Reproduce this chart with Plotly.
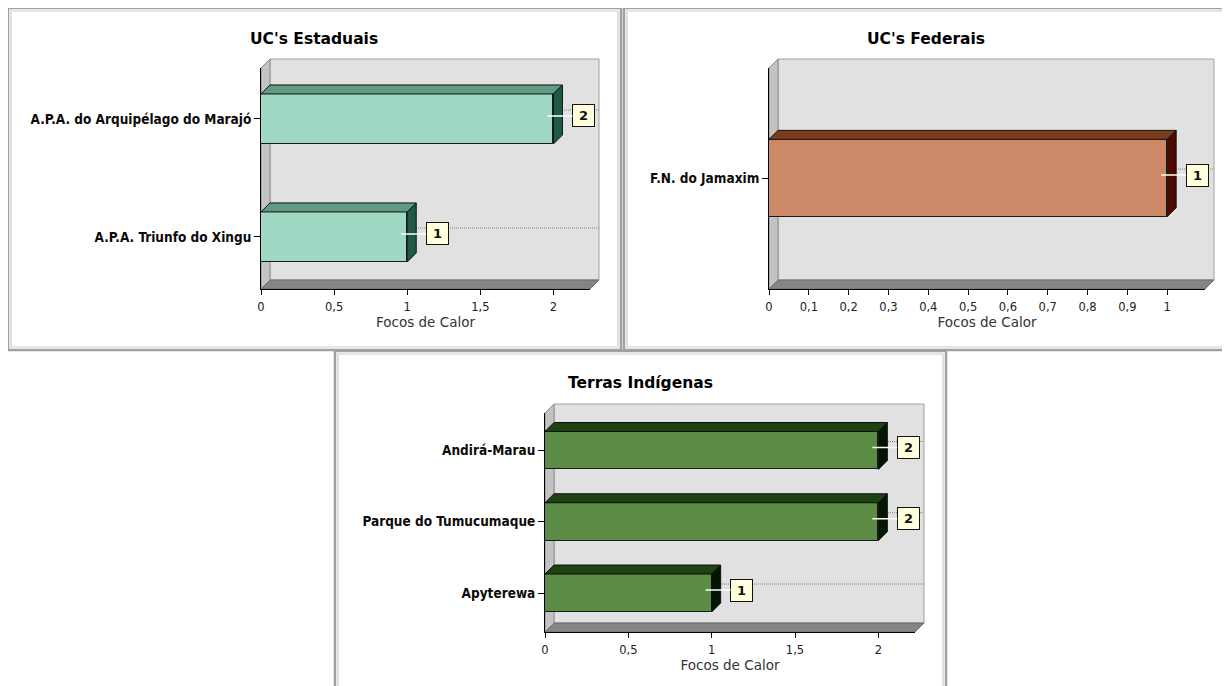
import plotly.graph_objects as go

# ---------------- data ----------------
est_categories = ["A.P.A. do Arquipélago do Marajó", "A.P.A. Triunfo do Xingu"]
est_values = [2, 1]
fed_categories = ["F.N. do Jamaxim"]
fed_values = [1]
ti_categories = ["Andirá-Marau", "Parque do Tumucumaque", "Apyterewa"]
ti_values = [2, 2, 1]

titles = ["UC's Estaduais", "UC's Federais", "Terras Indígenas"]
x_title = "Focos de Calor"

# ---------------- layout geometry (page pixels) ----------------
PAGE_W, PAGE_H = 1230, 686
OFF = 8  # default body margin of the html page
W, H = PAGE_W - OFF, PAGE_H - OFF
D = 9  # 3D depth in pixels

panels = [
    dict(cats=est_categories, vals=est_values, title=titles[0],
         box=(8, 8, 621, 350), title_y=39,
         front=(261, 68, 590, 289), xr=[0, 2.25], dtick=0.5,
         yr=[-0.441, 1.432], bw=0.424,
         colors=("#a0d9c3", "#5f9b83", "#1f5a45")),
    dict(cats=fed_categories, vals=fed_values, title=titles[1],
         box=(624, 8, 1236, 350), title_y=39,
         front=(769, 68, 1205, 289), xr=[0, 1.095], dtick=0.1,
         yr=[-0.502, 0.498], bw=0.35,
         colors=("#cd8967", "#7b3b1d", "#4b0900")),
    dict(cats=ti_categories, vals=ti_values, title=titles[2],
         box=(335, 351, 946, 694), title_y=383,
         front=(545, 413, 915, 632), xr=[0, 2.22], dtick=0.5,
         yr=[-0.547, 2.526], bw=0.533,
         colors=("#5b8b45", "#1e4311", "#031503")),
]
title_centers = [314, 926, 640]


def px(x):
    return (x - OFF) / W


def py(y):
    return 1 - (y - OFF) / H


fig = go.Figure()
shapes = []
annotations = []
layout_axes = {}

tick_font = dict(family="DejaVu Sans", size=11.5, color="#222222")
cat_font = dict(family="DejaVu Sans Condensed, DejaVu Sans, sans-serif",
                size=13.5, color="#0a0a0a", weight="bold")

for i, p in enumerate(panels, start=1):
    xa = "x" if i == 1 else f"x{i}"
    ya = "y" if i == 1 else f"y{i}"
    x0, y0, x1, y1 = p["front"]
    n = len(p["cats"])
    pos = [n - 1 - k for k in range(n)]  # top to bottom

    # panel frame (double border)
    bx0, by0, bx1, by1 = p["box"]
    shapes.append(dict(type="rect", xref="paper", yref="paper",
                       x0=px(bx0), x1=px(bx1), y0=py(by0), y1=py(by1),
                       line=dict(color="#a0a0a0", width=2.5), fillcolor="white", layer="below"))
    shapes.append(dict(type="rect", xref="paper", yref="paper",
                       x0=px(bx0 + 3), x1=px(bx1 - 3), y0=py(by0 + 3), y1=py(by1 - 3),
                       line=dict(color="#cccccc", width=1.2), layer="below"))

    # back wall
    shapes.append(dict(type="rect", xref="paper", yref="paper",
                       x0=px(x0 + D), x1=px(x1 + D), y0=py(y1 - D), y1=py(y0 - D),
                       line=dict(color="#a0a0a0", width=1), fillcolor="#e1e1e1", layer="below"))
    # left wall
    shapes.append(dict(type="path", xref="paper", yref="paper",
                       path=f"M {px(x0)},{py(y0)} L {px(x0 + D)},{py(y0 - D)} L {px(x0 + D)},{py(y1 - D)} L {px(x0)},{py(y1)} Z",
                       line=dict(color="#8c8c8c", width=1), fillcolor="#c3c3c3", layer="below"))
    # floor
    shapes.append(dict(type="path", xref="paper", yref="paper",
                       path=f"M {px(x0)},{py(y1)} L {px(x0 + D)},{py(y1 - D)} L {px(x1 + D)},{py(y1 - D)} L {px(x1)},{py(y1)} Z",
                       line=dict(color="#6e6e6e", width=1), fillcolor="#858585", layer="below"))

    # pixel -> data conversions
    ppx = (x1 - x0) / (p["xr"][1] - p["xr"][0])
    ppy = (y1 - y0) / (p["yr"][1] - p["yr"][0])
    dx = D / ppx
    dy = D / ppy

    # dotted category lines on back wall
    for yy in pos:
        shapes.append(dict(type="line", xref="paper", yref=ya,
                           x0=px(x0 + D), x1=px(x1 + D), y0=yy + dy, y1=yy + dy,
                           line=dict(color="#808080", width=1, dash="1px,1px"), layer="below"))

    front_c, top_c, side_c = p["colors"]
    fig.add_trace(go.Bar(x=p["vals"], y=pos, orientation="h", width=p["bw"],
                         marker=dict(color=front_c, line=dict(color="#1a1a1a", width=1)),
                         xaxis=xa, yaxis=ya, hoverinfo="skip", showlegend=False))

    hw = p["bw"] / 2
    for v, yy in zip(p["vals"], pos):
        yt, yb = yy + hw, yy - hw
        shapes.append(dict(type="path", xref=xa, yref=ya, layer="above",
                           path=f"M 0,{yt} L {v},{yt} L {v + dx},{yt + dy} L {dx},{yt + dy} Z",
                           fillcolor=top_c, line=dict(color="#111111", width=1)))
        shapes.append(dict(type="path", xref=xa, yref=ya, layer="above",
                           path=f"M {v},{yt} L {v + dx},{yt + dy} L {v + dx},{yb + dy} L {v},{yb} Z",
                           fillcolor=side_c, line=dict(color="#111111", width=1)))
        annotations.append(dict(x=v, y=yy, xref=xa, yref=ya, text=f"{v:g}",
                                showarrow=True, ax=36, ay=0, arrowhead=0, arrowwidth=1.5,
                                arrowcolor="white", standoff=0, xshift=-6, yshift=3,
                                bgcolor="#ffffdc", bordercolor="#111111", borderwidth=1,
                                borderpad=2, width=17, height=17,
                                font=dict(family="DejaVu Sans", size=13, color="#111111", weight="bold")))

    # panel title
    annotations.append(dict(x=px(title_centers[i - 1]), y=py(p["title_y"]),
                            xref="paper", yref="paper", text=p["title"], showarrow=False,
                            xanchor="center", yanchor="middle",
                            font=dict(family="DejaVu Sans", size=15.5, color="#000000", weight="bold")))

    layout_axes["xaxis" if i == 1 else f"xaxis{i}"] = dict(
        domain=[px(x0), px(x1)], anchor=ya, range=p["xr"], dtick=p["dtick"], tick0=0,
        showgrid=False, zeroline=False, showline=True, linecolor="#000000", linewidth=1,
        ticks="outside", ticklen=5, tickcolor="#000000", tickfont=tick_font,
        ticklabelstandoff=2, automargin=False,
        title=dict(text=x_title, standoff=3, font=dict(family="DejaVu Sans", size=13.5, color="#333333")),
        fixedrange=True)
    layout_axes["yaxis" if i == 1 else f"yaxis{i}"] = dict(
        domain=[py(y1), py(y0)], anchor=xa, range=p["yr"],
        tickmode="array", tickvals=pos, ticktext=p["cats"],
        showgrid=False, zeroline=False, showline=True, linecolor="#000000", linewidth=1,
        ticks="outside", ticklen=6, tickcolor="#000000", tickfont=cat_font,
        automargin=False, fixedrange=True)

fig.update_layout(
    width=W, height=H, margin=dict(l=0, r=0, t=0, b=0, autoexpand=False),
    paper_bgcolor="white", plot_bgcolor="rgba(0,0,0,0)",
    separators=",.", showlegend=False, bargap=0,
    shapes=shapes, annotations=annotations, **layout_axes)

fig.write_html("out.html", config={"displayModeBar": False})
